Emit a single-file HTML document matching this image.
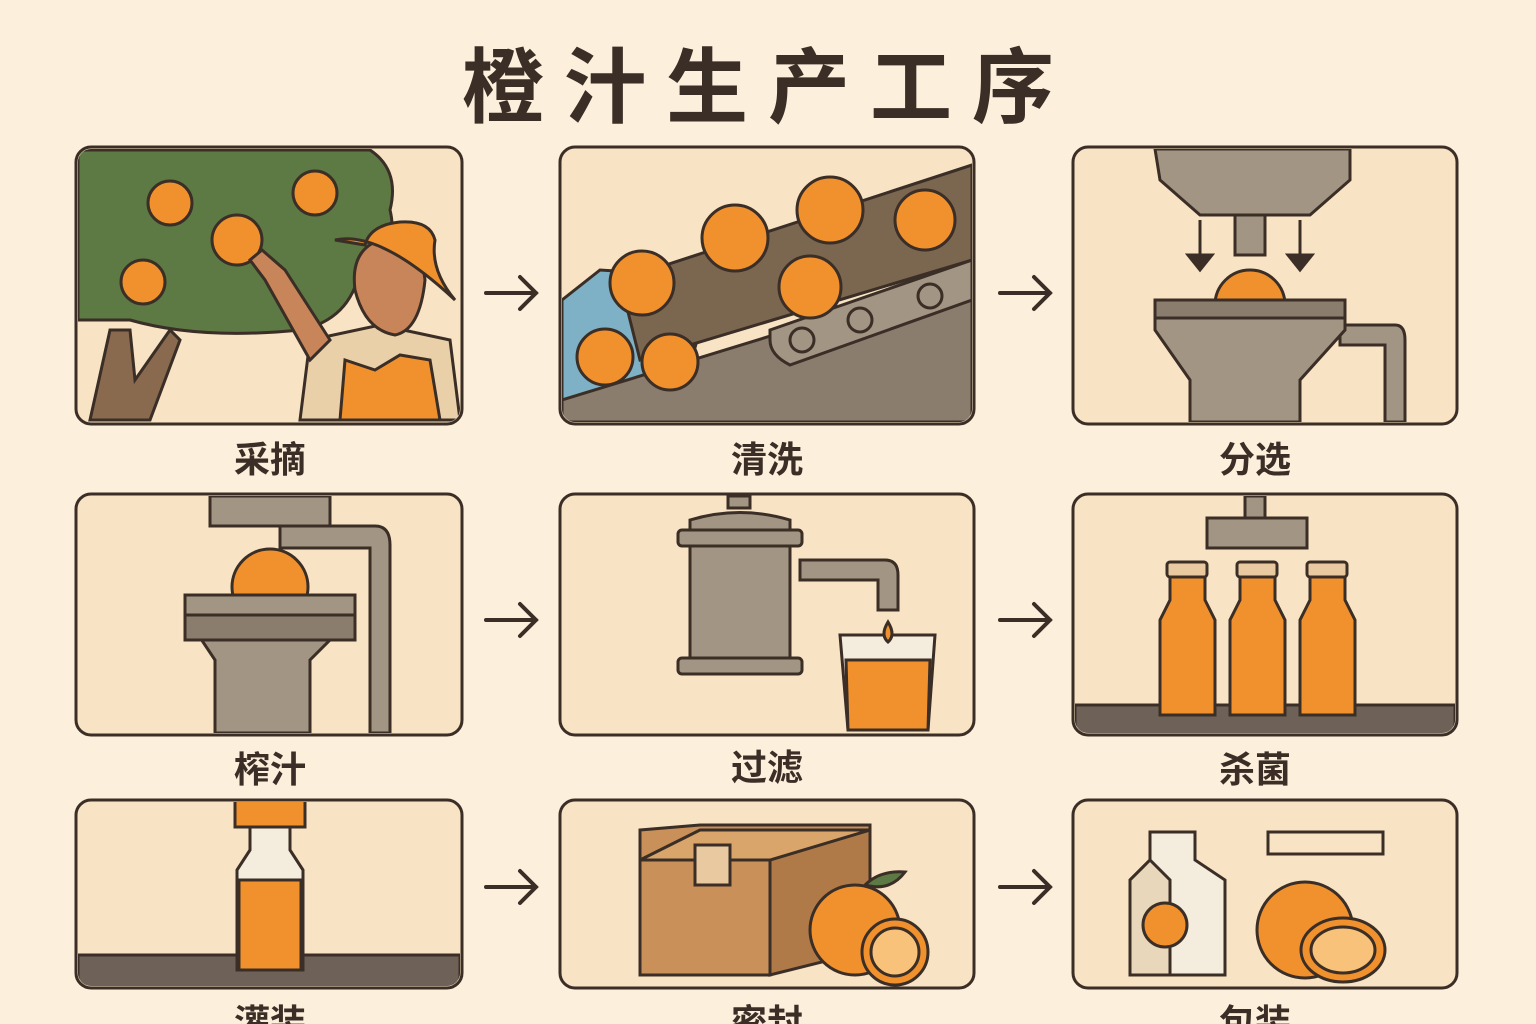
<!DOCTYPE html>
<html><head><meta charset="utf-8"><style>
body{margin:0;width:1536px;height:1024px;overflow:hidden;background:#fcefdc;font-family:"Liberation Sans","Noto Sans CJK SC",sans-serif;}
svg{position:absolute;left:0;top:0}
</style></head><body>
<svg width="1536" height="1024" viewBox="0 0 1536 1024" xmlns="http://www.w3.org/2000/svg" font-family="Liberation Sans, Noto Sans CJK SC, sans-serif">
<defs>
<clipPath id="c1"><rect x="78" y="149" width="382" height="273" rx="13"/></clipPath>
<clipPath id="c2"><rect x="562" y="149" width="410" height="273" rx="13"/></clipPath>
<clipPath id="c3"><rect x="1075" y="149" width="380" height="273" rx="13"/></clipPath>
<clipPath id="c4"><rect x="78" y="496" width="382" height="237" rx="13"/></clipPath>
<clipPath id="c6"><rect x="1075" y="496" width="380" height="237" rx="13"/></clipPath>
<clipPath id="c7"><rect x="78" y="802" width="382" height="184" rx="13"/></clipPath>
</defs>
<text x="768" y="116" text-anchor="middle" font-size="82" font-weight="bold" fill="#3a2e26" letter-spacing="20">橙汁生产工序</text>
<g stroke="#3a2e26" stroke-width="3" fill="#f8e4c4">
<rect x="76" y="147" width="386" height="277" rx="15"/>
<rect x="560" y="147" width="414" height="277" rx="15"/>
<rect x="1073" y="147" width="384" height="277" rx="15"/>
<rect x="76" y="494" width="386" height="241" rx="15"/>
<rect x="560" y="494" width="414" height="241" rx="15"/>
<rect x="1073" y="494" width="384" height="241" rx="15"/>
<rect x="76" y="800" width="386" height="188" rx="15"/>
<rect x="560" y="800" width="414" height="188" rx="15"/>
<rect x="1073" y="800" width="384" height="188" rx="15"/>
</g>
<g clip-path="url(#c1)" stroke="#3a2e26" stroke-width="3">
<path d="M78 150 H370 Q400 170 390 210 Q400 250 360 270 Q350 320 300 330 Q200 340 130 320 L78 320Z" fill="#5d7a45"/>
<path d="M90 420 L110 330 L130 330 L135 380 L170 330 L180 340 L150 420Z" fill="#8a6a4e"/>
<g fill="#f0912d"><circle cx="170" cy="203" r="22"/><circle cx="315" cy="193" r="22"/><circle cx="237" cy="240" r="25"/><circle cx="143" cy="282" r="22"/></g>
<path d="M300 420 L310 340 L380 325 L450 340 L460 420Z" fill="#e9d0a8"/>
<path d="M340 420 L345 360 L375 370 L400 355 L430 360 L440 420Z" fill="#f0912d"/>
<path d="M355 290 Q350 250 380 240 Q420 235 425 280 Q420 330 395 335 Q365 330 355 290Z" fill="#c9855a"/>
<path d="M335 240 Q380 230 455 300 Q430 270 435 240 Q430 220 400 222 Q370 225 365 245Z" fill="#f0912d"/>
<path d="M310 360 L265 280 L250 260 L262 250 L285 270 L330 340Z" fill="#c9855a"/>
</g>
<g clip-path="url(#c2)" stroke="#3a2e26" stroke-width="3">
<path d="M562 300 L600 270 L680 275 L700 330 L680 400 L562 400Z" fill="#7fb1c6"/>
<path d="M620 280 L972 165 L972 260 L640 360Z" fill="#7b6650"/>
<path d="M562 400 L790 330 L972 280 L972 422 L562 422Z" fill="#8b7d6e"/>
<path d="M770 330 L972 260 L972 300 L790 365 Q770 355 770 340Z" fill="#a39584"/>
<g fill="#a39584"><circle cx="802" cy="340" r="12"/><circle cx="860" cy="320" r="12"/><circle cx="930" cy="296" r="12"/></g>
<g fill="#f0912d"><circle cx="642" cy="283" r="32"/><circle cx="735" cy="238" r="33"/><circle cx="830" cy="210" r="33"/><circle cx="925" cy="220" r="30"/><circle cx="810" cy="287" r="31"/><circle cx="605" cy="357" r="28"/><circle cx="670" cy="362" r="28"/></g>
</g>
<g clip-path="url(#c3)" stroke="#3a2e26" stroke-width="3" fill="#a39584">
<path d="M1155 149 H1350 V180 L1310 215 H1200 L1160 180Z"/>
<rect x="1235" y="215" width="30" height="40"/>
<path d="M1200 220 V255 M1300 220 V255" fill="none"/>
<path d="M1188 255 H1212 L1200 270Z M1288 255 H1312 L1300 270Z" fill="#3a2e26"/>
<path d="M1340 325 H1395 Q1405 325 1405 340 V422 H1385 V345 H1340Z"/>
<circle cx="1250" cy="305" r="35" fill="#f0912d"/>
<path d="M1155 300 H1345 V330 L1300 380 V422 H1190 V380 L1155 330Z"/>
<path d="M1155 300 H1345 V318 H1155Z" fill="#8b7d6e"/>
</g>
<g clip-path="url(#c4)" stroke="#3a2e26" stroke-width="3" fill="#a39584">
<rect x="210" y="496" width="120" height="30"/>
<path d="M280 526 H375 Q390 526 390 545 V733 H370 V548 H280Z"/>
<circle cx="270" cy="587" r="38" fill="#f0912d"/>
<path d="M185 595 H355 V615 L310 660 V733 H215 V660 L185 615Z"/>
<path d="M185 615 H355 V640 H185Z" fill="#8b7d6e"/>
</g>
<g stroke="#3a2e26" stroke-width="3" fill="#a39584">
<rect x="728" y="496" width="22" height="12"/>
<path d="M690 520 Q740 505 790 520 V660 Q740 675 690 660Z"/>
<rect x="678" y="530" width="124" height="16" rx="4"/>
<rect x="678" y="658" width="124" height="16" rx="4"/>
<path d="M800 560 H885 Q898 560 898 575 V610 H878 V580 H800Z"/>
<path d="M840 635 H935 L928 730 H848Z" fill="#f4ecdc"/>
<path d="M846 660 H930 L928 730 H848Z" fill="#f0912d"/>
<path d="M888 622 Q880 635 888 642 Q896 635 888 622Z" fill="#f0912d"/>
</g>
<g clip-path="url(#c6)" stroke="#3a2e26" stroke-width="3">
<rect x="1245" y="496" width="20" height="22" fill="#a39584"/>
<rect x="1207" y="518" width="100" height="30" fill="#a39584"/>
<rect x="1075" y="705" width="380" height="30" fill="#6e6258"/>
<g fill="#f0912d">
<path d="M1170 575 H1205 V600 L1215 620 V715 H1160 V620 L1170 600Z"/>
<path d="M1240 575 H1275 V600 L1285 620 V715 H1230 V620 L1240 600Z"/>
<path d="M1310 575 H1345 V600 L1355 620 V715 H1300 V620 L1310 600Z"/>
</g>
<g fill="#e9c9a0"><rect x="1167" y="562" width="40" height="15" rx="3"/><rect x="1237" y="562" width="40" height="15" rx="3"/><rect x="1307" y="562" width="40" height="15" rx="3"/></g>
</g>
<g clip-path="url(#c7)" stroke="#3a2e26" stroke-width="3">
<rect x="78" y="955" width="382" height="40" fill="#6e6258"/>
<rect x="235" y="800" width="70" height="27" fill="#f0912d"/>
<path d="M250 827 H290 V850 L303 870 V970 H237 V870 L250 850Z" fill="#f4ecdc"/>
<path d="M239 880 H301 V970 H239Z" fill="#f0912d"/>
</g>
<g stroke="#3a2e26" stroke-width="3">
<path d="M640 830 L700 825 H870 L870 860 L770 975 H640Z" fill="#c9905a"/>
<rect x="640" y="860" width="130" height="115" fill="#c9905a"/>
<path d="M770 860 L870 830 V950 L770 975Z" fill="#b07a48"/>
<path d="M640 860 L700 830 H870 L770 860Z" fill="#d9a56a"/>
<rect x="695" y="845" width="35" height="40" fill="#e9c9a0"/>
<circle cx="855" cy="930" r="45" fill="#f0912d"/>
<circle cx="895" cy="952" r="33" fill="#f0912d"/>
<circle cx="895" cy="952" r="24" fill="#f8c27a"/>
<path d="M865 885 Q880 870 905 872 Q890 892 865 885Z" fill="#5d7a45"/>
</g>
<g stroke="#3a2e26" stroke-width="3">
<rect x="1268" y="832" width="115" height="22" fill="#f8e4c4"/>
<path d="M1150 832 H1195 V860 L1225 880 V975 H1130 V880 L1150 860Z" fill="#f4ecdc"/>
<path d="M1130 880 L1150 860 L1170 880 V975 H1130Z" fill="#e9d7bc"/>
<circle cx="1165" cy="925" r="22" fill="#f0912d"/>
<circle cx="1305" cy="930" r="48" fill="#f0912d"/>
<ellipse cx="1343" cy="950" rx="42" ry="32" fill="#f0912d"/>
<ellipse cx="1343" cy="950" rx="32" ry="23" fill="#f8c27a"/>
</g>
<g stroke="#3a2e26" stroke-width="4" fill="none" stroke-linecap="round">
<path d="M486 293 H536 M520 277 L536 293 L520 309"/>
<path d="M1000 293 H1050 M1034 277 L1050 293 L1034 309"/>
<path d="M486 620 H536 M520 604 L536 620 L520 636"/>
<path d="M1000 620 H1050 M1034 604 L1050 620 L1034 636"/>
<path d="M486 887 H536 M520 871 L536 887 L520 903"/>
<path d="M1000 887 H1050 M1034 871 L1050 887 L1034 903"/>
</g>
<g font-size="36" fill="#3a2e26" text-anchor="middle" font-weight="bold">
<text x="270" y="472">采摘</text><text x="767" y="472">清洗</text><text x="1255" y="472">分选</text>
<text x="270" y="782">榨汁</text><text x="767" y="780">过滤</text><text x="1255" y="782">杀菌</text>
<text x="270" y="1035">灌装</text><text x="767" y="1035">密封</text><text x="1255" y="1035">包装</text>
</g>
</svg>
</body></html>
